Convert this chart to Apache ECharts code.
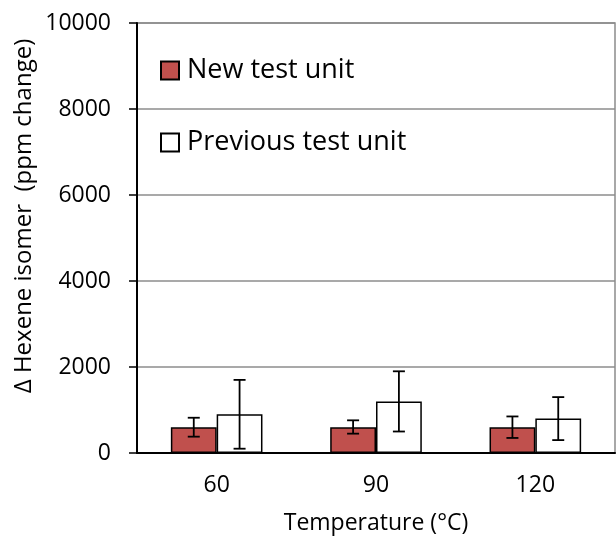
<!DOCTYPE html>
<html>
<head>
<meta charset="utf-8">
<script src="https://cdn.jsdelivr.net/npm/echarts@6/dist/echarts.min.js"></script>
<style>html,body{margin:0;padding:0;background:#fff;}#c{width:616px;height:536px;}</style>
</head>
<body>
<div id="c"></div>
<script>
var categories = ['60', '90', '120'];
var newUnit = [600, 600, 600];
var newUnitLow = [380, 450, 350];
var newUnitHigh = [820, 760, 850];
var prevUnit = [900, 1200, 800];
var prevUnitLow = [100, 500, 300];
var prevUnitHigh = [1700, 1900, 1300];
var yTicks = [0, 2000, 4000, 6000, 8000, 10000];

var FONT = 'Open Sans';
var BAR_FRAC = 0.2875; // each bar width as fraction of category width

function errSeries(name, low, high, side) {
  var data = categories.map(function (c, i) { return [i, low[i], high[i]]; });
  return {
    type: 'custom',
    name: name + ' err',
    z: 10,
    silent: true,
    data: data,
    encode: { x: 0, y: [1, 2] },
    renderItem: function (params, api) {
      var i = api.value(0);
      var catW = api.size([1, 0])[0];
      var off = side * catW * BAR_FRAC / 2;
      var lo = api.coord([i, api.value(1)]);
      var hi = api.coord([i, api.value(2)]);
      var x = lo[0] + off;
      var cap = 6;
      var st = { stroke: '#000', lineWidth: 1.8 };
      return {
        type: 'group',
        children: [
          { type: 'line', shape: { x1: x, y1: hi[1], x2: x, y2: lo[1] }, style: st },
          { type: 'line', shape: { x1: x - cap, y1: hi[1], x2: x + cap, y2: hi[1] }, style: st },
          { type: 'line', shape: { x1: x - cap, y1: lo[1], x2: x + cap, y2: lo[1] }, style: st }
        ]
      };
    }
  };
}

var chart = echarts.init(document.getElementById('c'), null, { renderer: 'canvas' });
chart.setOption({
  animation: false,
  backgroundColor: '#fff',
  textStyle: { fontFamily: FONT },
  grid: { left: 137, right: 1, top: 23, bottom: 83, containLabel: false, outerBoundsMode: 'none', show: true, borderColor: '#8c8c8c', borderWidth: 1.5, backgroundColor: 'transparent' },
  legend: {
    orient: 'vertical',
    left: 155,
    top: 52,
    itemGap: 45,
    itemWidth: 18,
    itemHeight: 18,
    textStyle: { fontFamily: FONT, fontSize: 27, color: '#000', padding: [0, 0, 0, 3] },
    data: [
      { name: 'New test unit', icon: 'rect' },
      { name: 'Previous test unit', icon: 'rect' }
    ]
  },
  xAxis: {
    type: 'category',
    data: categories,
    name: 'Temperature (°C)',
    nameLocation: 'middle',
    nameGap: 59,
    nameTextStyle: { fontFamily: FONT, fontSize: 23, color: '#000' },
    axisLine: { lineStyle: { color: '#000', width: 2 } },
    axisTick: { length: 7, lineStyle: { color: '#000', width: 1.5 } },
    axisLabel: { margin: 21, fontFamily: FONT, fontSize: 23, color: '#000' }
  },
  yAxis: {
    type: 'value',
    min: yTicks[0],
    max: yTicks[yTicks.length - 1],
    interval: yTicks[1] - yTicks[0],
    axisLine: { show: true, lineStyle: { color: '#000', width: 2 } },
    axisTick: { show: true, length: 8, lineStyle: { color: '#000', width: 1.5 } },
    axisLabel: { margin: 26, fontFamily: FONT, fontSize: 23, color: '#000', formatter: function (v) { return String(v); } },
    splitLine: { show: true, lineStyle: { color: '#8c8c8c', width: 1.5 } }
  },
  graphic: [{
    type: 'text',
    rotation: Math.PI / 2,
    style: {
      text: 'Δ Hexene isomer  (ppm change)',
      fontFamily: FONT,
      fontSize: 24,
      fill: '#000',
      align: 'center',
      verticalAlign: 'middle'
    },
    x: 24,
    y: 216
  }],
  series: [
    {
      name: 'New test unit',
      type: 'bar',
      data: newUnit,
      barWidth: (BAR_FRAC * 100) + '%',
      barGap: '0%',
      itemStyle: { color: '#C0504D', borderColor: '#000', borderWidth: 1.5 }
    },
    {
      name: 'Previous test unit',
      type: 'bar',
      data: prevUnit,
      barWidth: (BAR_FRAC * 100) + '%',
      barGap: '0%',
      itemStyle: { color: '#fff', borderColor: '#000', borderWidth: 1.5 }
    },
    errSeries('New test unit', newUnitLow, newUnitHigh, -1),
    errSeries('Previous test unit', prevUnitLow, prevUnitHigh, 1)
  ]
});
</script>
</body>
</html>
